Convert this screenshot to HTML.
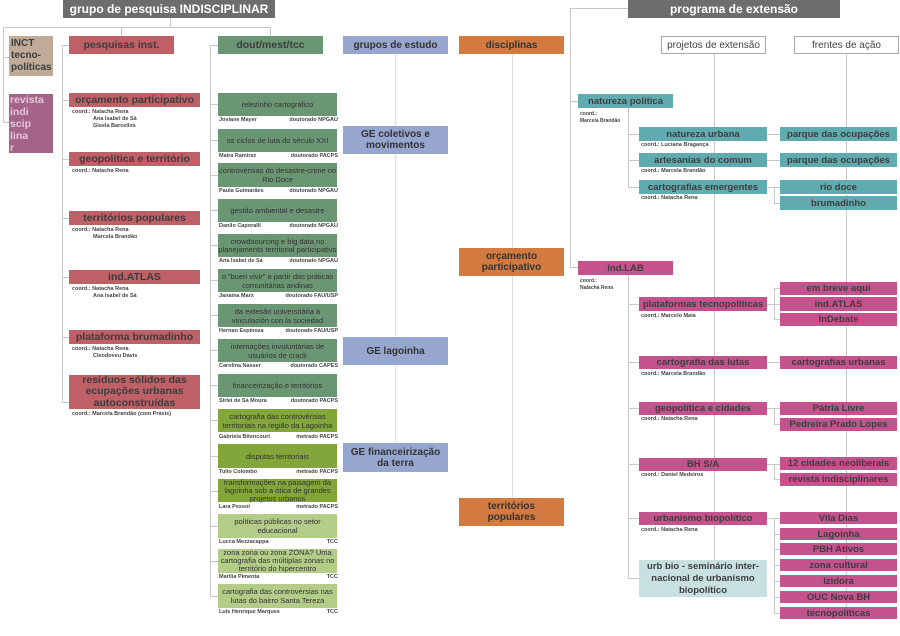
<!DOCTYPE html>
<html><head><meta charset="utf-8"><style>
body{margin:0;width:900px;height:636px;position:relative;background:#fff;overflow:hidden;font-family:"Liberation Sans",sans-serif}
.b{position:absolute;display:flex;align-items:center;justify-content:center;text-align:center;font-weight:bold;color:#3d3d3d;font-size:10px;line-height:11px;box-sizing:border-box}
.l{position:absolute;background:#c8c8c8}
.s{position:absolute;font-size:5.5px;font-weight:bold;color:#444;line-height:7px;white-space:nowrap}
.r{background:#bf5f66;font-size:10.5px}
.g{background:#6b9673;font-size:7.5px;line-height:9px;font-weight:normal;color:#333}
.o{background:#82a63a;font-size:7.5px;line-height:9px;font-weight:normal;color:#333}
.lg{background:#b3cc88;font-size:7.5px;line-height:9px;font-weight:normal;color:#333}
.t{background:#5fabb0;font-size:9.5px}
.p{background:#c4528d;font-size:9.5px}
.bl{background:#97a6cf;color:#333}
.or{background:#d27a3f;color:#333}
.nm{position:absolute;font-size:5.5px;font-weight:bold;color:#444;width:119px;left:219px}
.nm span{float:right}
</style></head><body>
<!-- lines left -->
<div class="l" style="left:170px;top:18px;width:1px;height:9px"></div>
<div class="l" style="left:3px;top:27px;width:267px;height:1px"></div>
<div class="l" style="left:121px;top:27px;width:1px;height:9px"></div>
<div class="l" style="left:270px;top:27px;width:1px;height:9px"></div>
<div class="l" style="left:3px;top:27px;width:1px;height:96px"></div>
<div class="l" style="left:3px;top:57px;width:6px;height:1px"></div>
<div class="l" style="left:3px;top:122px;width:6px;height:1px"></div>
<div class="l" style="left:62px;top:45px;width:1px;height:358px"></div>
<div class="l" style="left:62px;top:45px;width:7px;height:1px"></div>
<div class="l" style="left:62px;top:100px;width:7px;height:1px"></div>
<div class="l" style="left:62px;top:159px;width:7px;height:1px"></div>
<div class="l" style="left:62px;top:218px;width:7px;height:1px"></div>
<div class="l" style="left:62px;top:277px;width:7px;height:1px"></div>
<div class="l" style="left:62px;top:337px;width:7px;height:1px"></div>
<div class="l" style="left:62px;top:402px;width:7px;height:1px"></div>
<div class="l" style="left:210px;top:45px;width:1px;height:552px"></div>
<div class="l" style="left:210px;top:45px;width:8px;height:1px"></div>
<div class="l" style="left:210px;top:104px;width:8px;height:1px"></div>
<div class="l" style="left:210px;top:140px;width:8px;height:1px"></div>
<div class="l" style="left:210px;top:175px;width:8px;height:1px"></div>
<div class="l" style="left:210px;top:210px;width:8px;height:1px"></div>
<div class="l" style="left:210px;top:245px;width:8px;height:1px"></div>
<div class="l" style="left:210px;top:280px;width:8px;height:1px"></div>
<div class="l" style="left:210px;top:315px;width:8px;height:1px"></div>
<div class="l" style="left:210px;top:350px;width:8px;height:1px"></div>
<div class="l" style="left:210px;top:385px;width:8px;height:1px"></div>
<div class="l" style="left:210px;top:420px;width:8px;height:1px"></div>
<div class="l" style="left:210px;top:456px;width:8px;height:1px"></div>
<div class="l" style="left:210px;top:491px;width:8px;height:1px"></div>
<div class="l" style="left:210px;top:526px;width:8px;height:1px"></div>
<div class="l" style="left:210px;top:561px;width:8px;height:1px"></div>
<div class="l" style="left:210px;top:596px;width:8px;height:1px"></div>
<div class="l" style="left:395px;top:54px;width:1px;height:390px;background:#ddd"></div>
<div class="l" style="left:512px;top:54px;width:1px;height:444px;background:#ddd"></div>
<!-- lines right -->
<div class="l" style="left:570px;top:8px;width:58px;height:1px"></div>
<div class="l" style="left:570px;top:8px;width:1px;height:260px"></div>
<div class="l" style="left:570px;top:101px;width:8px;height:1px"></div>
<div class="l" style="left:570px;top:267px;width:8px;height:1px"></div>
<div class="l" style="left:714px;top:54px;width:1px;height:506px"></div>
<div class="l" style="left:846px;top:54px;width:1px;height:553px"></div>
<div class="l" style="left:628px;top:108px;width:1px;height:80px"></div>
<div class="l" style="left:628px;top:134px;width:11px;height:1px"></div>
<div class="l" style="left:628px;top:160px;width:11px;height:1px"></div>
<div class="l" style="left:628px;top:187px;width:11px;height:1px"></div>
<div class="l" style="left:628px;top:275px;width:1px;height:304px"></div>
<div class="l" style="left:628px;top:304px;width:11px;height:1px"></div>
<div class="l" style="left:628px;top:362px;width:11px;height:1px"></div>
<div class="l" style="left:628px;top:408px;width:11px;height:1px"></div>
<div class="l" style="left:628px;top:464px;width:11px;height:1px"></div>
<div class="l" style="left:628px;top:518px;width:11px;height:1px"></div>
<div class="l" style="left:628px;top:578px;width:11px;height:1px"></div>
<div class="l" style="left:767px;top:134px;width:13px;height:1px"></div>
<div class="l" style="left:767px;top:160px;width:13px;height:1px"></div>
<div class="l" style="left:767px;top:187px;width:13px;height:1px"></div>
<div class="l" style="left:774px;top:187px;width:1px;height:16px"></div>
<div class="l" style="left:774px;top:203px;width:6px;height:1px"></div>
<div class="l" style="left:767px;top:304px;width:13px;height:1px"></div>
<div class="l" style="left:774px;top:288px;width:1px;height:32px"></div>
<div class="l" style="left:774px;top:288px;width:6px;height:1px"></div>
<div class="l" style="left:774px;top:319px;width:6px;height:1px"></div>
<div class="l" style="left:767px;top:362px;width:13px;height:1px"></div>
<div class="l" style="left:767px;top:408px;width:13px;height:1px"></div>
<div class="l" style="left:774px;top:408px;width:1px;height:16px"></div>
<div class="l" style="left:774px;top:424px;width:6px;height:1px"></div>
<div class="l" style="left:767px;top:464px;width:13px;height:1px"></div>
<div class="l" style="left:774px;top:464px;width:1px;height:16px"></div>
<div class="l" style="left:774px;top:479px;width:6px;height:1px"></div>
<div class="l" style="left:767px;top:518px;width:13px;height:1px"></div>
<div class="l" style="left:774px;top:518px;width:1px;height:96px"></div>
<div class="l" style="left:774px;top:534px;width:6px;height:1px"></div>
<div class="l" style="left:774px;top:549px;width:6px;height:1px"></div>
<div class="l" style="left:774px;top:565px;width:6px;height:1px"></div>
<div class="l" style="left:774px;top:581px;width:6px;height:1px"></div>
<div class="l" style="left:774px;top:597px;width:6px;height:1px"></div>
<div class="l" style="left:774px;top:613px;width:6px;height:1px"></div>

<!-- titles -->
<div class="b" style="left:63px;top:0;width:212px;height:18px;background:#6d6d6d;color:#fff;font-size:12px">grupo de pesquisa INDISCIPLINAR</div>
<div class="b" style="left:628px;top:0;width:212px;height:18px;background:#6d6d6d;color:#fff;font-size:12px">programa de extensão</div>

<!-- left col -->
<div class="b" style="left:9px;top:36px;width:44px;height:40px;background:#bfab98;justify-content:flex-start;text-align:left;padding-left:2px;font-size:10px;line-height:12px">INCT<br>tecno-<br>políticas</div>
<div class="b" style="left:9px;top:94px;width:44px;height:59px;background:#a4648a;color:#e6c6d6;justify-content:flex-start;text-align:left;font-size:10.5px;line-height:12px;padding-left:1px">revista<br>indi<br>scip<br>lina<br>r</div>

<div class="b r" style="left:69px;top:36px;width:105px;height:18px">pesquisas inst.</div>
<div class="b r" style="left:69px;top:93px;width:131px;height:14px">orçamento participativo</div>
<div class="s" style="left:72px;top:109px">coord.: Natacha Rena<br><span style="padding-left:21px">Ana Isabel de Sá</span><br><span style="padding-left:21px">Gisela Barcellos</span></div>
<div class="b r" style="left:69px;top:152px;width:131px;height:14px">geopolítica e território</div>
<div class="s" style="left:72px;top:168px">coord.: Natacha Rena</div>
<div class="b r" style="left:69px;top:211px;width:131px;height:14px">territórios populares</div>
<div class="s" style="left:72px;top:227px">coord.: Natacha Rena<br><span style="padding-left:21px">Marcela Brandão</span></div>
<div class="b r" style="left:69px;top:270px;width:131px;height:14px">ind.ATLAS</div>
<div class="s" style="left:72px;top:286px">coord.: Natacha Rena<br><span style="padding-left:21px">Ana Isabel de Sá</span></div>
<div class="b r" style="left:69px;top:330px;width:131px;height:14px">plataforma brumadinho</div>
<div class="s" style="left:72px;top:346px">coord.: Natacha Rena<br><span style="padding-left:21px">Cleodoveu Davis</span></div>
<div class="b r" style="left:69px;top:375px;width:131px;height:34px;line-height:11.5px">resíduos sólidos das ecupações urbanas autoconstruídas</div>
<div class="s" style="left:72px;top:411px">coord.: Marcela Brandão (com Práxis)</div>

<!-- green col -->
<div class="b" style="left:218px;top:36px;width:105px;height:18px;background:#6b9673;font-size:10.5px">dout/mest/tcc</div>
<div class="b g" style="left:218px;top:93px;width:119px;height:23px">relezinho cartográfico</div>
<div class="nm" style="top:117px">Joviane Mayer<span>doutorado NPGAU</span></div>
<div class="b g" style="left:218px;top:129px;width:119px;height:23px">os ciclos de luta do século XXI</div>
<div class="nm" style="top:153px">Maira Ramirez<span>doutorado PACPS</span></div>
<div class="b g" style="left:218px;top:163px;width:119px;height:24px">controvérsias do desastre-crime no Rio Doce</div>
<div class="nm" style="top:188px">Paula Guimarães<span>doutorado NPGAU</span></div>
<div class="b g" style="left:218px;top:199px;width:119px;height:23px">gestão ambiental e desastre</div>
<div class="nm" style="top:223px">Danilo Caporalli<span>doutorado NPGAU</span></div>
<div class="b g" style="left:218px;top:234px;width:119px;height:23px;line-height:8px">crowdsourcing e big data no planejamento territorial participativo</div>
<div class="nm" style="top:258px">Ana Isabel de Sá<span>doutorado NPGAU</span></div>
<div class="b g" style="left:218px;top:269px;width:119px;height:23px">o "buen vivir" a partir das práticas comunitárias andinas</div>
<div class="nm" style="top:293px">Janaina Marx<span>doutorado FAU/USP</span></div>
<div class="b g" style="left:218px;top:304px;width:119px;height:23px">da extesão universitária à vinculación con la sociedad</div>
<div class="nm" style="top:328px">Hernan Espinoza<span>doutorado FAU/USP</span></div>
<div class="b g" style="left:218px;top:339px;width:119px;height:23px">internações involuntárias de usuários de crack</div>
<div class="nm" style="top:363px">Carolina Nasser<span>doutorado CAPES</span></div>
<div class="b g" style="left:218px;top:374px;width:119px;height:23px">financeirização e territórios</div>
<div class="nm" style="top:398px">Sirlei de Sá Moura<span>doutorado PACPS</span></div>
<div class="b o" style="left:218px;top:409px;width:119px;height:23px">cartografia das controvérsias territoriais na região da Lagoinha</div>
<div class="nm" style="top:434px">Gabriela Bitencourt<span>metrado PACPS</span></div>
<div class="b o" style="left:218px;top:444px;width:119px;height:24px">disputas territoriais</div>
<div class="nm" style="top:469px">Tulio Colombo<span>metrado PACPS</span></div>
<div class="b o" style="left:218px;top:479px;width:119px;height:23px;line-height:8px">transformações na paisagem da lagoinha sob a ótica de grandes projetos urbanos</div>
<div class="nm" style="top:504px">Lara Pessoi<span>metrado PACPS</span></div>
<div class="b lg" style="left:218px;top:514px;width:119px;height:24px">políticas públicas no setor educacional</div>
<div class="nm" style="top:539px">Lucca Mezzacappa<span>TCC</span></div>
<div class="b lg" style="left:218px;top:549px;width:119px;height:24px;line-height:8px">zona zona ou zona ZONA? Uma cartografia das múltiplas zonas no território do hipercentro</div>
<div class="nm" style="top:574px">Marilia Pimenta<span>TCC</span></div>
<div class="b lg" style="left:218px;top:584px;width:119px;height:24px">cartografia das controvérsias nas lutas do bairro Santa Tereza</div>
<div class="nm" style="top:609px">Luis Henrique Marques<span>TCC</span></div>

<!-- blue / orange -->
<div class="b bl" style="left:343px;top:36px;width:105px;height:18px">grupos de estudo</div>
<div class="b bl" style="left:343px;top:126px;width:105px;height:28px">GE coletivos e<br>movimentos</div>
<div class="b bl" style="left:343px;top:337px;width:105px;height:28px">GE lagoinha</div>
<div class="b bl" style="left:343px;top:443px;width:105px;height:29px">GE financeirização<br>da terra</div>
<div class="b or" style="left:459px;top:36px;width:105px;height:18px">disciplinas</div>
<div class="b or" style="left:459px;top:248px;width:105px;height:28px">orçamento<br>participativo</div>
<div class="b or" style="left:459px;top:498px;width:105px;height:28px">territórios<br>populares</div>

<!-- right -->
<div class="b" style="left:661px;top:36px;width:105px;height:18px;border:1px solid #aaa;font-weight:normal;color:#444">projetos de extensão</div>
<div class="b" style="left:794px;top:36px;width:105px;height:18px;border:1px solid #aaa;font-weight:normal;color:#444">frentes de ação</div>

<div class="b t" style="left:578px;top:94px;width:95px;height:14px">natureza política</div>
<div class="s" style="left:580px;top:111px;font-size:5px">coord.:<br>Marcela Brandão</div>
<div class="b t" style="left:639px;top:127px;width:128px;height:14px">natureza urbana</div>
<div class="s" style="left:641px;top:142px">coord.: Luciana Bragança</div>
<div class="b t" style="left:639px;top:153px;width:128px;height:14px">artesanias do comum</div>
<div class="s" style="left:641px;top:168px">coord.: Marcela Brandão</div>
<div class="b t" style="left:639px;top:180px;width:128px;height:14px">cartografias emergentes</div>
<div class="s" style="left:641px;top:195px">coord.: Natacha Rena</div>
<div class="b t" style="left:780px;top:127px;width:117px;height:14px">parque das ocupações</div>
<div class="b t" style="left:780px;top:153px;width:117px;height:14px">parque das ocupações</div>
<div class="b t" style="left:780px;top:180px;width:117px;height:14px">rio doce</div>
<div class="b t" style="left:780px;top:196px;width:117px;height:14px">brumadinho</div>

<div class="b p" style="left:578px;top:261px;width:95px;height:14px">ind.LAB</div>
<div class="s" style="left:580px;top:278px;font-size:5px">coord.:<br>Natacha Rena</div>
<div class="b p" style="left:639px;top:297px;width:128px;height:14px">plataformas tecnopolíticas</div>
<div class="s" style="left:641px;top:313px">coord.: Marcelo Maia</div>
<div class="b p" style="left:639px;top:356px;width:128px;height:13px">cartografia das lutas</div>
<div class="s" style="left:641px;top:371px">coord.: Marcela Brandão</div>
<div class="b p" style="left:639px;top:402px;width:128px;height:13px">geopolítica e cidades</div>
<div class="s" style="left:641px;top:416px">coord.: Natacha Rena</div>
<div class="b p" style="left:639px;top:458px;width:128px;height:13px">BH S/A</div>
<div class="s" style="left:641px;top:472px">coord.: Daniel Medeiros</div>
<div class="b p" style="left:639px;top:512px;width:128px;height:13px">urbanismo biopolítico</div>
<div class="s" style="left:641px;top:527px">coord.: Natacha Rena</div>
<div class="b" style="left:639px;top:560px;width:128px;height:37px;background:#c8e0e0;font-size:9.5px;line-height:12px">urb bio - seminário inter-<br>nacional de urbanismo<br>biopolítico</div>

<div class="b p" style="left:780px;top:282px;width:117px;height:13px">em breve aqui</div>
<div class="b p" style="left:780px;top:297px;width:117px;height:14px">ind.ATLAS</div>
<div class="b p" style="left:780px;top:313px;width:117px;height:13px">InDebate</div>
<div class="b p" style="left:780px;top:356px;width:117px;height:13px">cartografias urbanas</div>
<div class="b p" style="left:780px;top:402px;width:117px;height:13px">Pátria Livre</div>
<div class="b p" style="left:780px;top:418px;width:117px;height:13px">Pedreira Prado Lopes</div>
<div class="b p" style="left:780px;top:457px;width:117px;height:13px">12 cidades neoliberais</div>
<div class="b p" style="left:780px;top:473px;width:117px;height:13px">revista indisciplinares</div>
<div class="b p" style="left:780px;top:512px;width:117px;height:12px">Vila Dias</div>
<div class="b p" style="left:780px;top:528px;width:117px;height:12px">Lagoinha</div>
<div class="b p" style="left:780px;top:543px;width:117px;height:12px">PBH Ativos</div>
<div class="b p" style="left:780px;top:559px;width:117px;height:12px">zona cultural</div>
<div class="b p" style="left:780px;top:575px;width:117px;height:12px">izidora</div>
<div class="b p" style="left:780px;top:591px;width:117px;height:12px">OUC Nova BH</div>
<div class="b p" style="left:780px;top:607px;width:117px;height:12px">tecnopolíticas</div>
</body></html>
